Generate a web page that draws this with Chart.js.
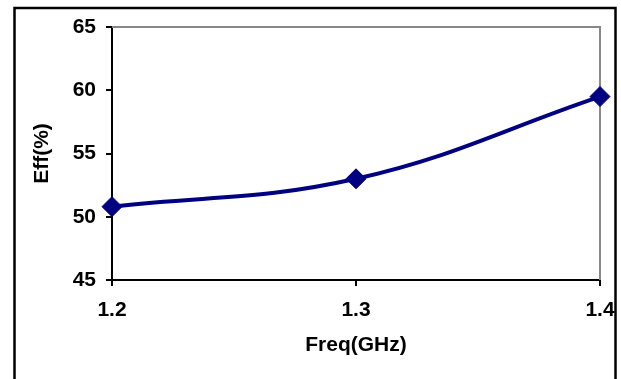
<!DOCTYPE html>
<html>
<head>
<meta charset="utf-8">
<script src="https://cdn.jsdelivr.net/npm/chart.js@4/dist/chart.umd.min.js"></script>
<style>
  body { margin: 0; background: #fff; }
  #wrap { width: 621px; height: 379px; }
</style>
</head>
<body>
<div id="wrap"><canvas id="effChart" width="621" height="379"></canvas></div>
<script>
const freq = [1.2, 1.3, 1.4];        // GHz
const eff = [50.8, 53.0, 59.5];      // %
const yTicks = [45, 50, 55, 60, 65];
const xTicks = [1.2, 1.3, 1.4];

const tickFont = { family: 'Liberation Sans, Arial, sans-serif', size: 21, weight: 'bold' };

// outer frame + grey top/right plot edges (Excel look)
const framePlugin = {
  id: 'frame',
  beforeDraw(chart) {
    const ctx = chart.ctx;
    ctx.save();
    ctx.fillStyle = '#fff';
    ctx.fillRect(0, 0, chart.width, chart.height);
    ctx.restore();
  },
  beforeDatasetsDraw(chart) {
    const { ctx, chartArea: a } = chart;
    ctx.save();
    ctx.strokeStyle = '#888';
    ctx.lineWidth = 2;
    ctx.beginPath();
    ctx.moveTo(a.left, a.top);
    ctx.lineTo(a.right, a.top);
    ctx.lineTo(a.right, a.bottom);
    ctx.stroke();
    ctx.restore();
  },
  afterDraw(chart) {
    const ctx = chart.ctx;
    ctx.save();
    ctx.strokeStyle = '#000';
    ctx.lineWidth = 2.5;
    ctx.strokeRect(14.5, 8, 601, 400);
    ctx.restore();
  }
};

new Chart(document.getElementById('effChart').getContext('2d'), {
  type: 'line',
  data: {
    datasets: [{
      label: 'Eff',
      data: freq.map((f, i) => ({ x: f, y: eff[i] })),
      borderColor: '#000080',
      backgroundColor: '#000080',
      borderWidth: 4,
      tension: 0.4,
      pointStyle: 'rectRot',
      pointRadius: 10,
      pointBorderWidth: 1,
      clip: false
    }]
  },
  plugins: [framePlugin],
  options: {
    responsive: false,
    animation: false,
    layout: { padding: { left: 14, top: 27, right: 21, bottom: 0 } },
    plugins: { legend: { display: false }, tooltip: { enabled: false } },
    scales: {
      x: {
        type: 'linear',
        min: 1.2,
        max: 1.4,
        afterFit: s => { s.height = 99; s.paddingLeft = 0; s.paddingRight = 0; },
        afterBuildTicks: s => { s.ticks = xTicks.map(v => ({ value: v })); },
        ticks: {
          color: '#000',
          font: tickFont,
          padding: 12,
          maxRotation: 0,
          callback: v => v.toFixed(1)
        },
        grid: { drawOnChartArea: false, drawTicks: true, tickLength: 6, color: '#000', lineWidth: 2 },
        border: { color: '#000', width: 2 },
        title: {
          display: true,
          text: 'Freq(GHz)',
          color: '#000',
          font: tickFont,
          padding: { top: 0, bottom: 21 }
        }
      },
      y: {
        min: 45,
        max: 65,
        afterFit: s => { s.width = 98; s.paddingTop = 0; s.paddingBottom = 0; },
        afterBuildTicks: s => { s.ticks = yTicks.map(v => ({ value: v })); },
        ticks: { color: '#000', font: tickFont, padding: 10 },
        grid: { drawOnChartArea: false, drawTicks: true, tickLength: 6, color: '#000', lineWidth: 2 },
        border: { color: '#000', width: 2 },
        title: {
          display: true,
          text: 'Eff(%)',
          color: '#000',
          font: tickFont,
          padding: { top: 16, bottom: 0 }
        }
      }
    }
  }
});
</script>
</body>
</html>
